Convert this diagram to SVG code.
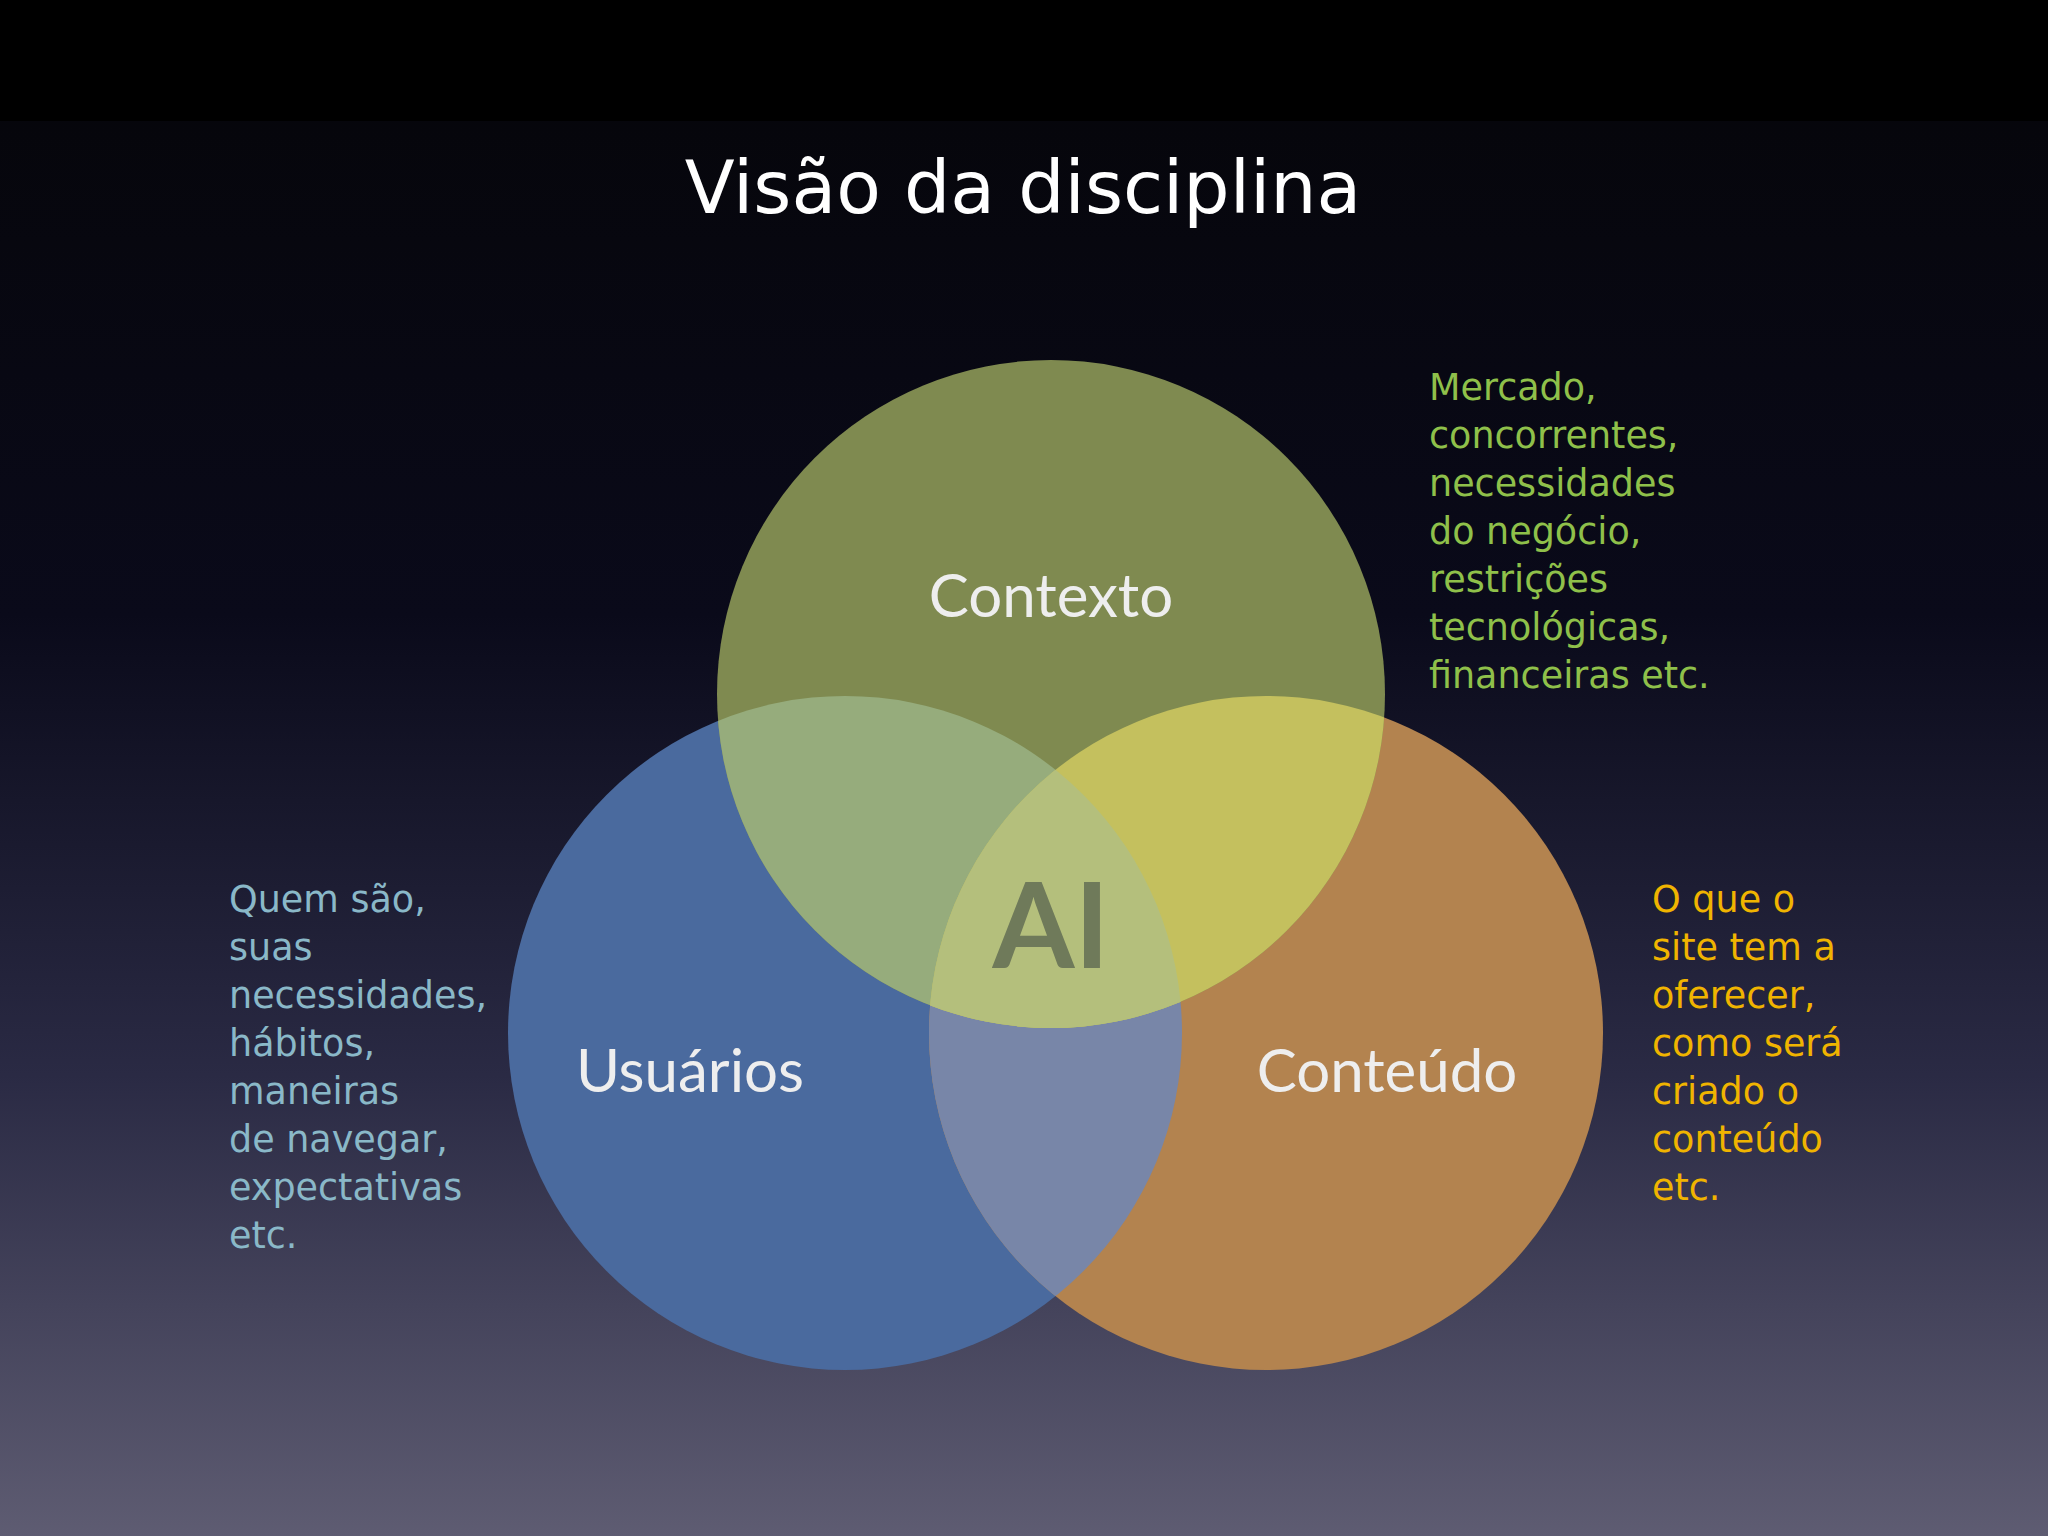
<svg xmlns="http://www.w3.org/2000/svg" width="2048" height="1536" viewBox="0 0 2048 1536">
<defs>
<linearGradient id="bg" x1="0" y1="0" x2="0" y2="1">
<stop offset="0" stop-color="#050508"/><stop offset="0.4" stop-color="#0a0a1a"/><stop offset="0.7" stop-color="#2a2a44"/><stop offset="1" stop-color="#5e5c72"/>
</linearGradient>
<clipPath id="cC"><circle cx="1051" cy="694" r="334"/></clipPath>
<clipPath id="cU"><circle cx="845" cy="1033" r="337"/></clipPath>
<clipPath id="cT"><circle cx="1266" cy="1033" r="337"/></clipPath>
<style>
.d{font-family:"DejaVu Sans","Noto Sans",sans-serif;font-size:36.5px}
.l{font-family:"Lato","Open Sans",sans-serif;font-size:60px;fill:#eeeeee;text-anchor:middle}
</style>
</defs>
<rect width="2048" height="1536" fill="url(#bg)"/>
<rect width="2048" height="121" fill="#000"/>
<text x="1023" y="213" text-anchor="middle" font-family="DejaVu Sans, sans-serif" font-size="73" fill="#fff">Visão da disciplina</text>
<g id="usuarios"><circle cx="845" cy="1033" r="337" fill="#4a6a9e"/><text class="l" x="690" y="1092">Usuários</text></g>
<g id="conteudo"><circle cx="1266" cy="1033" r="337" fill="#b3834f"/><text class="l" x="1387" y="1092">Conteúdo</text></g>
<g id="contexto"><circle cx="1051" cy="694" r="334" fill="#7f8a50"/></g>
<g clip-path="url(#cU)"><circle cx="1266" cy="1033" r="337" fill="#7886a8"/><circle cx="1051" cy="694" r="334" fill="#96ac7c"/></g>
<g clip-path="url(#cT)"><circle cx="1051" cy="694" r="334" fill="#c4c05e"/></g>
<g clip-path="url(#cU)"><g clip-path="url(#cT)"><circle cx="1051" cy="694" r="334" fill="#b4bf7c"/></g></g>
<text class="l" x="1051" y="617">Contexto</text>
<g id="ai"><text x="1051" y="968" text-anchor="middle" font-family="Lato, sans-serif" font-size="118" font-weight="bold" fill="#6f7a5a">AI</text></g>
<g id="notes">
<text class="d" fill="#8fc04a"><tspan x="1429" y="400">Mercado,</tspan><tspan x="1429" y="448">concorrentes,</tspan><tspan x="1429" y="496">necessidades</tspan><tspan x="1429" y="544">do negócio,</tspan><tspan x="1429" y="592">restrições</tspan><tspan x="1429" y="640">tecnológicas,</tspan><tspan x="1429" y="688">financeiras etc.</tspan></text>
<text class="d" fill="#8ab8c8"><tspan x="229" y="912">Quem são,</tspan><tspan x="229" y="960">suas</tspan><tspan x="229" y="1008">necessidades,</tspan><tspan x="229" y="1056">hábitos,</tspan><tspan x="229" y="1104">maneiras</tspan><tspan x="229" y="1152">de navegar,</tspan><tspan x="229" y="1200">expectativas</tspan><tspan x="229" y="1248">etc.</tspan></text>
<text class="d" fill="#f0b400"><tspan x="1652" y="912">O que o</tspan><tspan x="1652" y="960">site tem a</tspan><tspan x="1652" y="1008">oferecer,</tspan><tspan x="1652" y="1056">como será</tspan><tspan x="1652" y="1104">criado o</tspan><tspan x="1652" y="1152">conteúdo</tspan><tspan x="1652" y="1200">etc.</tspan></text>
</g>
<g id="connectors"/>
</svg>
